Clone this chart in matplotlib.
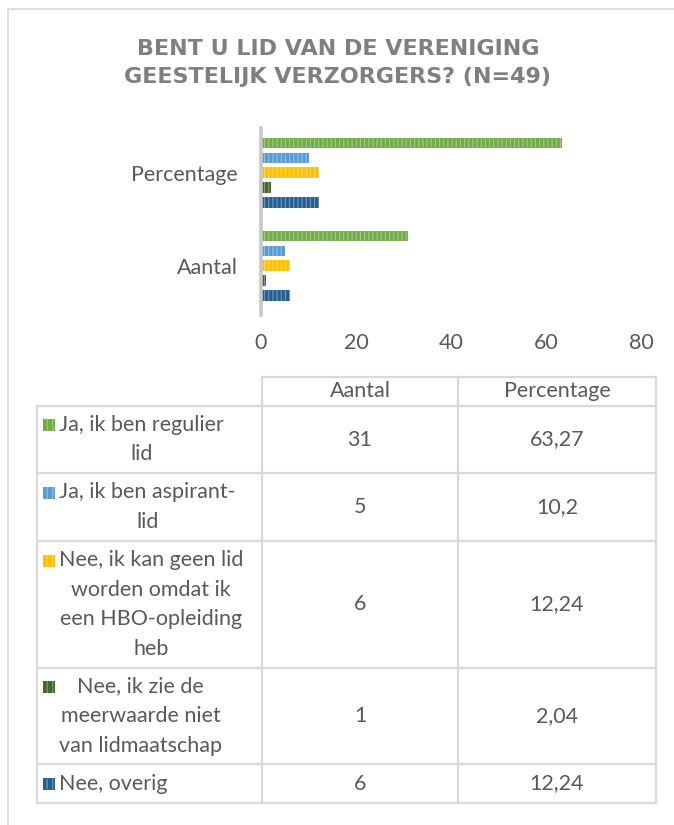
import matplotlib
matplotlib.use('Agg')
import matplotlib.pyplot as plt
from matplotlib.colors import to_rgb
from matplotlib.patches import Rectangle

plt.rcParams['font.family'] = ['Lato', 'DejaVu Sans']
plt.rcParams['hatch.linewidth'] = 0.8

# data
categories = ['Aantal', 'Percentage']
series_names = ['Ja, ik ben regulier\nlid',
                'Ja, ik ben aspirant-\nlid',
                'Nee, ik kan geen lid\nworden omdat ik\neen HBO-opleiding\nheb',
                'Nee, ik zie de\nmeerwaarde niet\nvan lidmaatschap',
                'Nee, overig']
aantal = [31, 5, 6, 1, 6]
percentage = [63.27, 10.2, 12.24, 2.04, 12.24]
x_ticks = [0, 20, 40, 60, 80]
colors = ['#70AD47', '#5B9BD5', '#FFC000', '#43682B', '#255E91']

TEXT = '#595959'
GRID = '#D9D9D9'
FS = 15.5


def lighter(c, f=0.35):
    r, g, b = to_rgb(c)
    return (r + (1 - r) * f, g + (1 - g) * f, b + (1 - b) * f)


def fmt(v):
    return f"{v:g}".replace('.', ',')


W, H = 674, 825
fig = plt.figure(figsize=(W / 100, H / 100), dpi=100)

# overlay in pixel coordinates for frame and data table
ov = fig.add_axes([0, 0, 1, 1])
ov.set_xlim(0, W)
ov.set_ylim(H, 0)
ov.axis('off')

ov.plot([8, 8], [9, H], color=GRID, lw=1.2)
ov.plot([8, W], [9, 9], color=GRID, lw=1.2)

ov.text(338, 63, 'BENT U LID VAN DE VERENIGING\nGEESTELIJK VERZORGERS? (N=49)',
        ha='center', va='center', fontsize=16, fontweight='bold',
        family='DejaVu Sans', color='#7F7F7F', linespacing=1.5)

# bar chart
ax = fig.add_axes([261 / W, 1 - 315 / H, 380 / W, 187 / H])
ypos = list(range(len(categories)))
step = 0.16
for i, name in enumerate(series_names):
    off = (2 - i) * step
    vals = [aantal[i], percentage[i]]
    ax.barh([y + off for y in ypos], vals, height=0.112, color=colors[i],
            edgecolor=lighter(colors[i]), linewidth=0, hatch='||||')

ax.set_xlim(0, 80)
ax.set_ylim(-0.53, 1.48)
ax.set_xticks(x_ticks)
ax.set_yticks(ypos)
ax.set_yticklabels(categories)
ax.tick_params(length=0, labelsize=FS, colors=TEXT)
ax.tick_params(axis='x', pad=13)
ax.tick_params(axis='y', pad=17)
for s in ['top', 'right', 'bottom']:
    ax.spines[s].set_visible(False)
ax.spines['left'].set_color('#C8C8C8')
ax.spines['left'].set_linewidth(2.6)
ax.patch.set_alpha(0)

# data table
cols = [37, 262, 458, 656]
rows = [406, 473, 541, 668, 764, 803]
ov.plot([cols[1], cols[3]], [377, 377], color=GRID, lw=1.6)
for x in cols[1:]:
    ov.plot([x, x], [377, rows[-1]], color=GRID, lw=1.6)
ov.plot([cols[0], cols[0]], [rows[0], rows[-1]], color=GRID, lw=1.6)
for y in rows:
    ov.plot([cols[0], cols[3]], [y, y], color=GRID, lw=1.6)

for j, cat in enumerate(categories):
    ov.text((cols[j + 1] + cols[j + 2]) / 2, 391, cat, ha='center', va='center',
            fontsize=FS, color=TEXT)

for i, name in enumerate(series_names):
    top, bot = rows[i], rows[i + 1]
    yc = (top + bot) / 2
    n = name.count('\n') + 1
    first = yc - (n - 1) * 29 / 2
    ov.add_patch(Rectangle((43, first - 6), 12, 12, facecolor=colors[i],
                           edgecolor=lighter(colors[i]), linewidth=0, hatch='|||'))
    ov.text(59, yc, name, ha='left', va='center', multialignment='center',
            fontsize=FS, color=TEXT, linespacing=1.62)
    ov.text((cols[1] + cols[2]) / 2, yc, fmt(aantal[i]), ha='center', va='center',
            fontsize=FS, color=TEXT)
    ov.text((cols[2] + cols[3]) / 2, yc, fmt(percentage[i]), ha='center', va='center',
            fontsize=FS, color=TEXT)

fig.savefig('out.png', dpi=100)
